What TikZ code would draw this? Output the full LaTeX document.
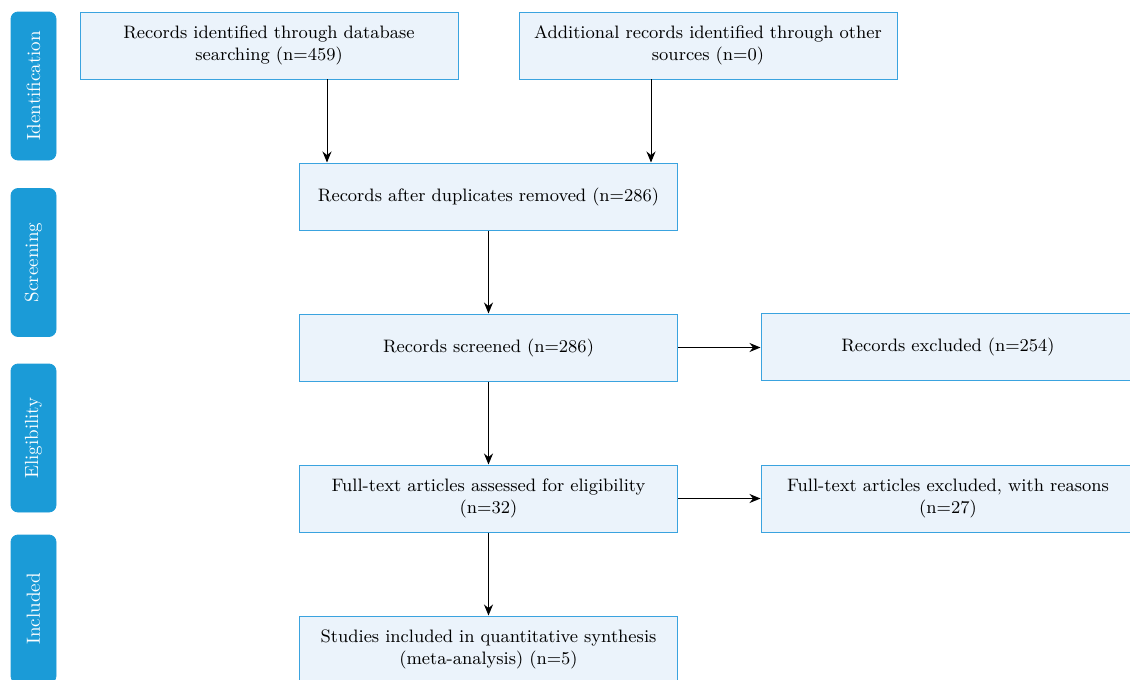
\documentclass[tikz,border=0pt]{standalone}
\usetikzlibrary{arrows.meta}
\definecolor{tabblue}{HTML}{1B9BD7}
\definecolor{boxfill}{HTML}{EBF3FB}
\definecolor{boxline}{HTML}{3AA3DF}
\tikzset{
  box/.style={draw=boxline,fill=boxfill,line width=0.5pt,minimum width=189pt,
    minimum height=33.5pt,text width=186pt,align=center,inner sep=0pt,
    font=\fontsize{9}{11}\selectfont},
  tab/.style={fill=tabblue,draw=tabblue,rounded corners=3.5pt,minimum width=74pt,
    minimum height=22.5pt,inner sep=0pt,text=white,rotate=90,
    font=\fontsize{9.5}{11}\selectfont},
  arr/.style={-{Stealth[length=5.5pt,width=4.5pt]},black,line width=0.5pt}
}
\begin{document}
\begin{tikzpicture}[x=0.5pt,y=-0.5pt]
  \useasboundingbox (0,0) rectangle (1130,680);
  % tabs
  \node[tab] (idtab) at(33.5,86){Identification};
  \node[tab] (scrtab) at(33.5,262.5){Screening};
  \node[tab] (eltab) at(33.5,438){Eligibility};
  \node[tab] (inctab) at(33.5,609){Included};
  % identification
  \node[box] (db) at(269,45.5){Records identified through database\\searching (n=459)};
  \node[box] (other) at(708,45.5){Additional records identified through other\\sources (n=0)};
  % screening
  \node[box] (dup) at(488.5,196.5){Records after duplicates removed (n=286)};
  \node[box] (screened) at(488.5,347.5){Records screened (n=286)};
  \node[box,minimum width=187pt] (excl) at(948,346.5){Records excluded (n=254)};
  % eligibility
  \node[box] (full) at(488.5,498.5){Full-text articles assessed for eligibility\\(n=32)};
  \node[box,minimum width=187pt] (fullexcl) at(948,498.5){Full-text articles excluded, with reasons\\(n=27)};
  % included
  \node[box] (incl) at(488.5,649.5){Studies included in quantitative synthesis\\(meta-analysis) (n=5)};
  % arrows
  \coordinate (dbout) at(327,79);
  \coordinate (otherout) at(651,79);
  \draw[arr] (dbout) -- (dbout |- dup.north);
  \draw[arr] (otherout) -- (otherout |- dup.north);
  \draw[arr] (dup) -- (screened);
  \draw[arr] (screened) -- (full);
  \draw[arr] (full) -- (incl);
  \draw[arr] (screened.east) -- (screened.east -| excl.west);
  \draw[arr] (full) -- (fullexcl);
\end{tikzpicture}
\end{document}
